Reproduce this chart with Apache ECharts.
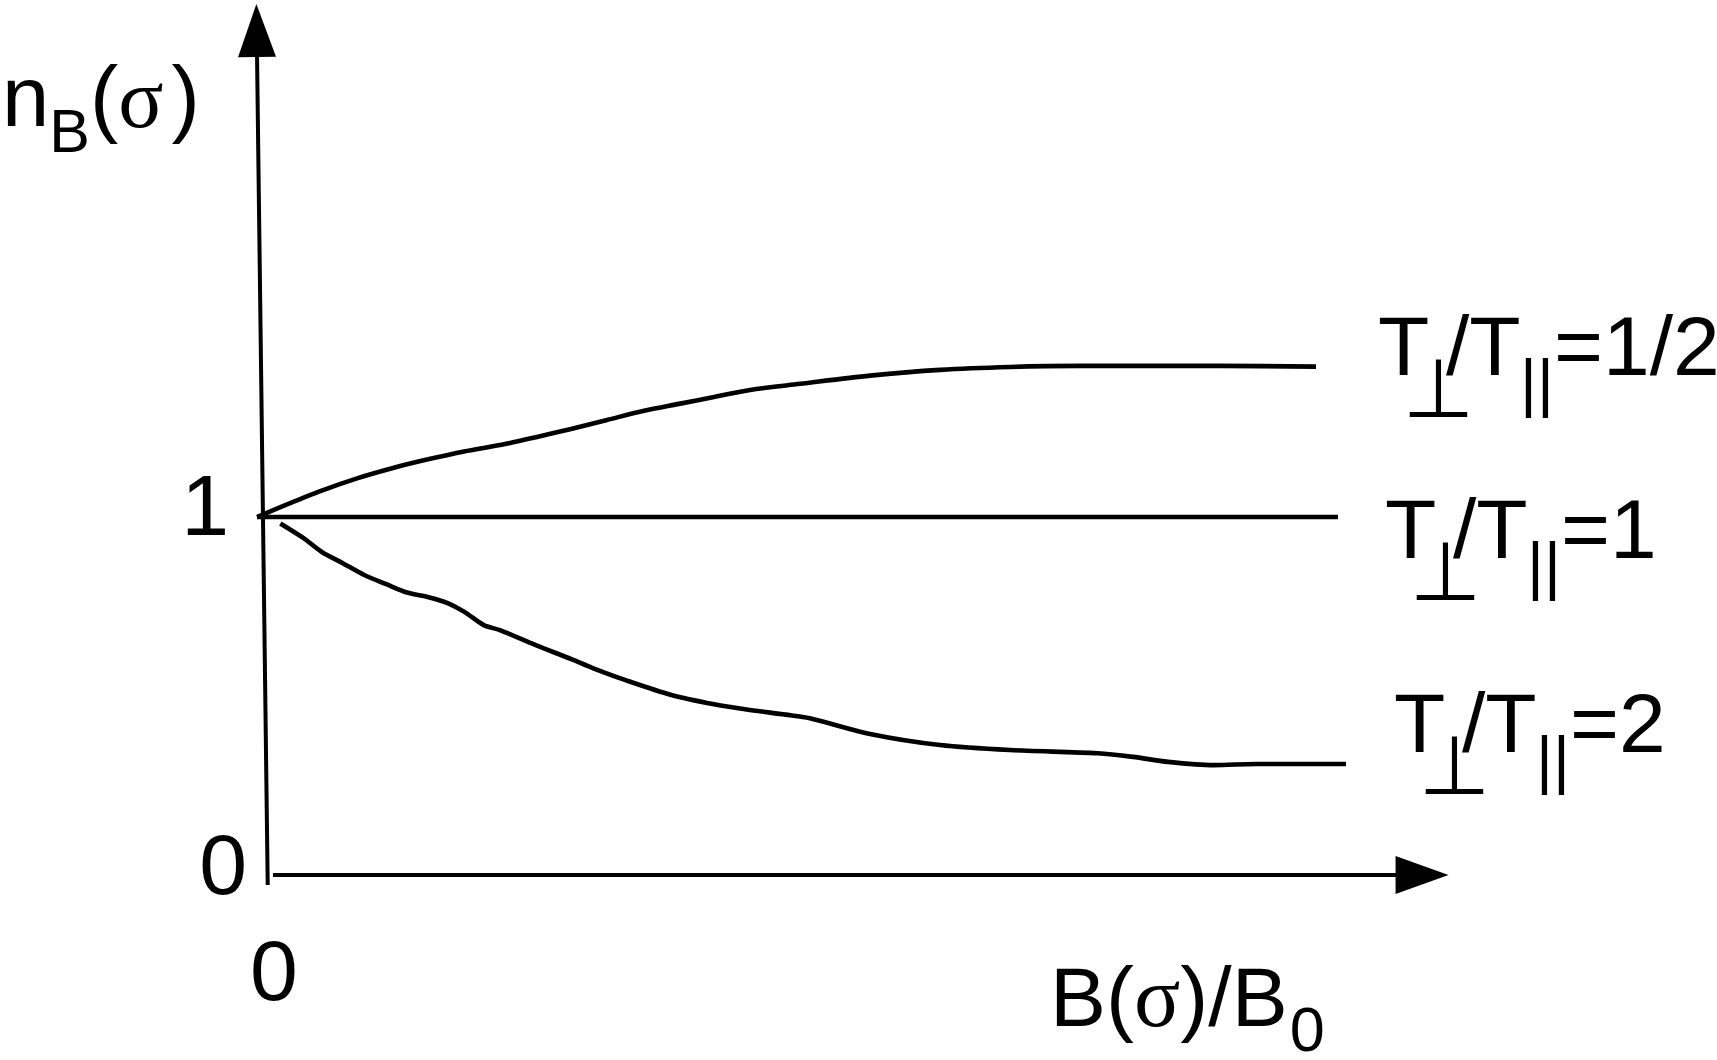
<!DOCTYPE html>
<html><head><meta charset="utf-8">
<script src="https://cdn.jsdelivr.net/npm/echarts@6/dist/echarts.min.js"></script>
<style>html,body{margin:0;padding:0;background:#fff}#c{width:1717px;height:1060px}</style>
</head><body><div id="c"></div>
<script>
// ---------------- data ----------------
const oneX = [0, 9.076];
const oneY = [1, 1];
const halfX = [0, 0.243, 0.537, 0.840, 1.142, 1.436, 1.738, 2.040, 2.343, 2.637, 2.939, 3.241, 3.543, 3.837, 4.140, 4.559, 5.147, 5.735, 6.322, 6.910, 7.498, 8.086, 8.892];
const halfY = [1.0, 1.034, 1.073, 1.108, 1.137, 1.161, 1.183, 1.201, 1.223, 1.246, 1.271, 1.296, 1.316, 1.335, 1.355, 1.372, 1.395, 1.411, 1.419, 1.422, 1.422, 1.422, 1.420];
const twoX = [0.196, 0.391, 0.541, 0.720, 0.900, 1.081, 1.260, 1.440, 1.590, 1.741, 1.904, 2.039, 2.340, 2.640, 2.819, 3.089, 3.479, 3.838, 4.138, 4.438, 4.642, 5.147, 5.735, 6.322, 7.061, 7.355, 7.649, 8.035, 8.388, 9.144];
const twoY = [0.982, 0.941, 0.903, 0.871, 0.838, 0.813, 0.789, 0.776, 0.761, 0.735, 0.698, 0.684, 0.642, 0.603, 0.578, 0.545, 0.503, 0.477, 0.461, 0.448, 0.438, 0.394, 0.363, 0.349, 0.340, 0.330, 0.316, 0.307, 0.310, 0.310];
const ratioLabels = ['1/2', '1', '2'];
const yTickLabels = ['0', '1'];
const xTickLabels = ['0'];

// ---------------- text helpers ----------------
const F_SANS = '"Liberation Sans", Arial, sans-serif';
const F_SERIF = '"Liberation Serif", "Times New Roman", serif';
const F_SYM = '"DejaVu Sans", sans-serif';
const mctx = document.createElement('canvas').getContext('2d');
function fontStr(size, fam) { return size + 'px ' + fam; }
function midOff(font) { mctx.font = font; mctx.textBaseline = 'middle'; return mctx.measureText('H').actualBoundingBoxDescent; }
function adv(font, t) { mctx.font = font; mctx.textBaseline = 'alphabetic'; return mctx.measureText(t).width; }
const graphics = [];
function put(x, base, text, size, fam, align) {
  const font = fontStr(size, fam);
  align = align || 'left';
  graphics.push({
    type: 'text', x: x, y: base - midOff(font), silent: true,
    style: { text: text, font: font, fill: '#000', align: align, verticalAlign: 'middle', textAlign: align, textVerticalAlign: 'middle' }
  });
}
function flow(x, base, pieces) {
  let cx = x;
  for (const p of pieces) {
    cx += p.dx || 0;
    put(cx, base + (p.dy || 0), p.t, p.s, p.f, 'left');
    cx += adv(fontStr(p.s, p.f), p.t);
  }
}
// axis names
flow(2, 127, [
  { t: 'n', s: 85, f: F_SANS },
  { t: 'B', s: 61, f: F_SANS, dy: 25 },
  { t: '(', s: 85, f: F_SANS },
  { t: 'σ', s: 84, f: F_SERIF },
  { t: ')', s: 85, f: F_SANS, dx: 8 }
]);
flow(1050, 1026, [
  { t: 'B(', s: 84, f: F_SANS },
  { t: 'σ', s: 86, f: F_SERIF },
  { t: ')/B', s: 84, f: F_SANS },
  { t: '0', s: 63, f: F_SANS, dy: 25, dx: 2 }
]);
// curve labels  T⊥/T∥=...
const labelAnchors = [[1380, 375], [1387, 558], [1396, 752]];
ratioLabels.forEach((r, i) => {
  const x0 = labelAnchors[i][0], b = labelAnchors[i][1];
  put(x0 - 2, b, 'T', 84, F_SANS, 'left');
  put(x0 + 58.5, b + 42, '⊥', 82, F_SYM, 'center');
  put(x0 + 66, b, '/T', 84, F_SANS, 'left');
  put(x0 + 157, b + 30, '||', 65, F_SANS, 'center');
  put(x0 + 174, b, '=' + r, 84, F_SANS, 'left');
});

// ---------------- chart ----------------
const chart = echarts.init(document.getElementById('c'), null, { renderer: 'canvas' });
const lineStyle = { color: '#000', width: 4.6 };
const axisStyle = { color: '#000', width: 4 };
chart.setOption({
  animation: false,
  backgroundColor: '#fff',
  grid: { left: 257, top: 1.48, width: 1191, height: 873.52, containLabel: false, outerBoundsMode: 'none' },
  xAxis: {
    type: 'value', min: 0, max: 10, interval: 10,
    axisLine: { show: false }, axisTick: { show: false }, splitLine: { show: false },
    axisLabel: {
      margin: 58, showMaxLabel: false,
      formatter: v => (Math.abs(v) < 1e-9 ? '{a|' + xTickLabels[0] + '}' : ''),
      rich: { a: { fontSize: 86, fontFamily: 'Liberation Sans', color: '#000', lineHeight: 86, padding: [0, 0, 0, 34] } }
    }
  },
  yAxis: {
    type: 'value', min: 0, max: 2.44, interval: 1,
    axisLine: { show: false }, axisTick: { show: false }, splitLine: { show: false },
    axisLabel: {
      margin: 10,
      formatter: v => (Math.abs(v) < 1e-9 ? '{a|' + yTickLabels[0] + '}' : (Math.abs(v - 1) < 1e-9 ? '{b|' + yTickLabels[1] + '}' : '')),
      rich: {
        a: { fontSize: 86, fontFamily: 'Liberation Sans', color: '#000', lineHeight: 86, padding: [0, 0, 10, 0] },
        b: { fontSize: 86, fontFamily: 'Liberation Sans', color: '#000', lineHeight: 86, padding: [0, 18, 12, 0] }
      }
    }
  },
  series: [
    {
      type: 'line', name: 'T=1/2', data: halfX.map((x, i) => [x, halfY[i]]),
      symbol: 'none', smooth: 0.3, lineStyle: lineStyle, clip: false, silent: true
    },
    {
      type: 'line', name: 'T=2', data: twoX.map((x, i) => [x, twoY[i]]),
      symbol: 'none', smooth: 0.3, lineStyle: lineStyle, clip: false, silent: true
    },
    {
      type: 'line', name: 'T=1', data: oneX.map((x, i) => [x, oneY[i]]),
      symbol: 'none', lineStyle: lineStyle, clip: false, silent: true
    },
    {
      type: 'line', name: 'yAxisArrow', silent: true, clip: false, showSymbol: true, symbol: 'none',
      lineStyle: axisStyle, itemStyle: { color: '#000' },
      data: [
        { value: [0.090, -0.028], symbol: 'none' },
        { value: [-0.0025, 2.359], symbol: 'triangle', symbolSize: [38, 53], symbolRotate: 0.7 }
      ]
    },
    {
      type: 'line', name: 'xAxisArrow', silent: true, clip: false, showSymbol: true, symbol: 'none',
      lineStyle: axisStyle, itemStyle: { color: '#000' },
      data: [
        { value: [0.134, 0], symbol: 'none' },
        { value: [9.782, 0], symbol: 'triangle', symbolSize: [38, 53], symbolRotate: -90 }
      ]
    }
  ],
  graphic: graphics
});
</script>
</body></html>
